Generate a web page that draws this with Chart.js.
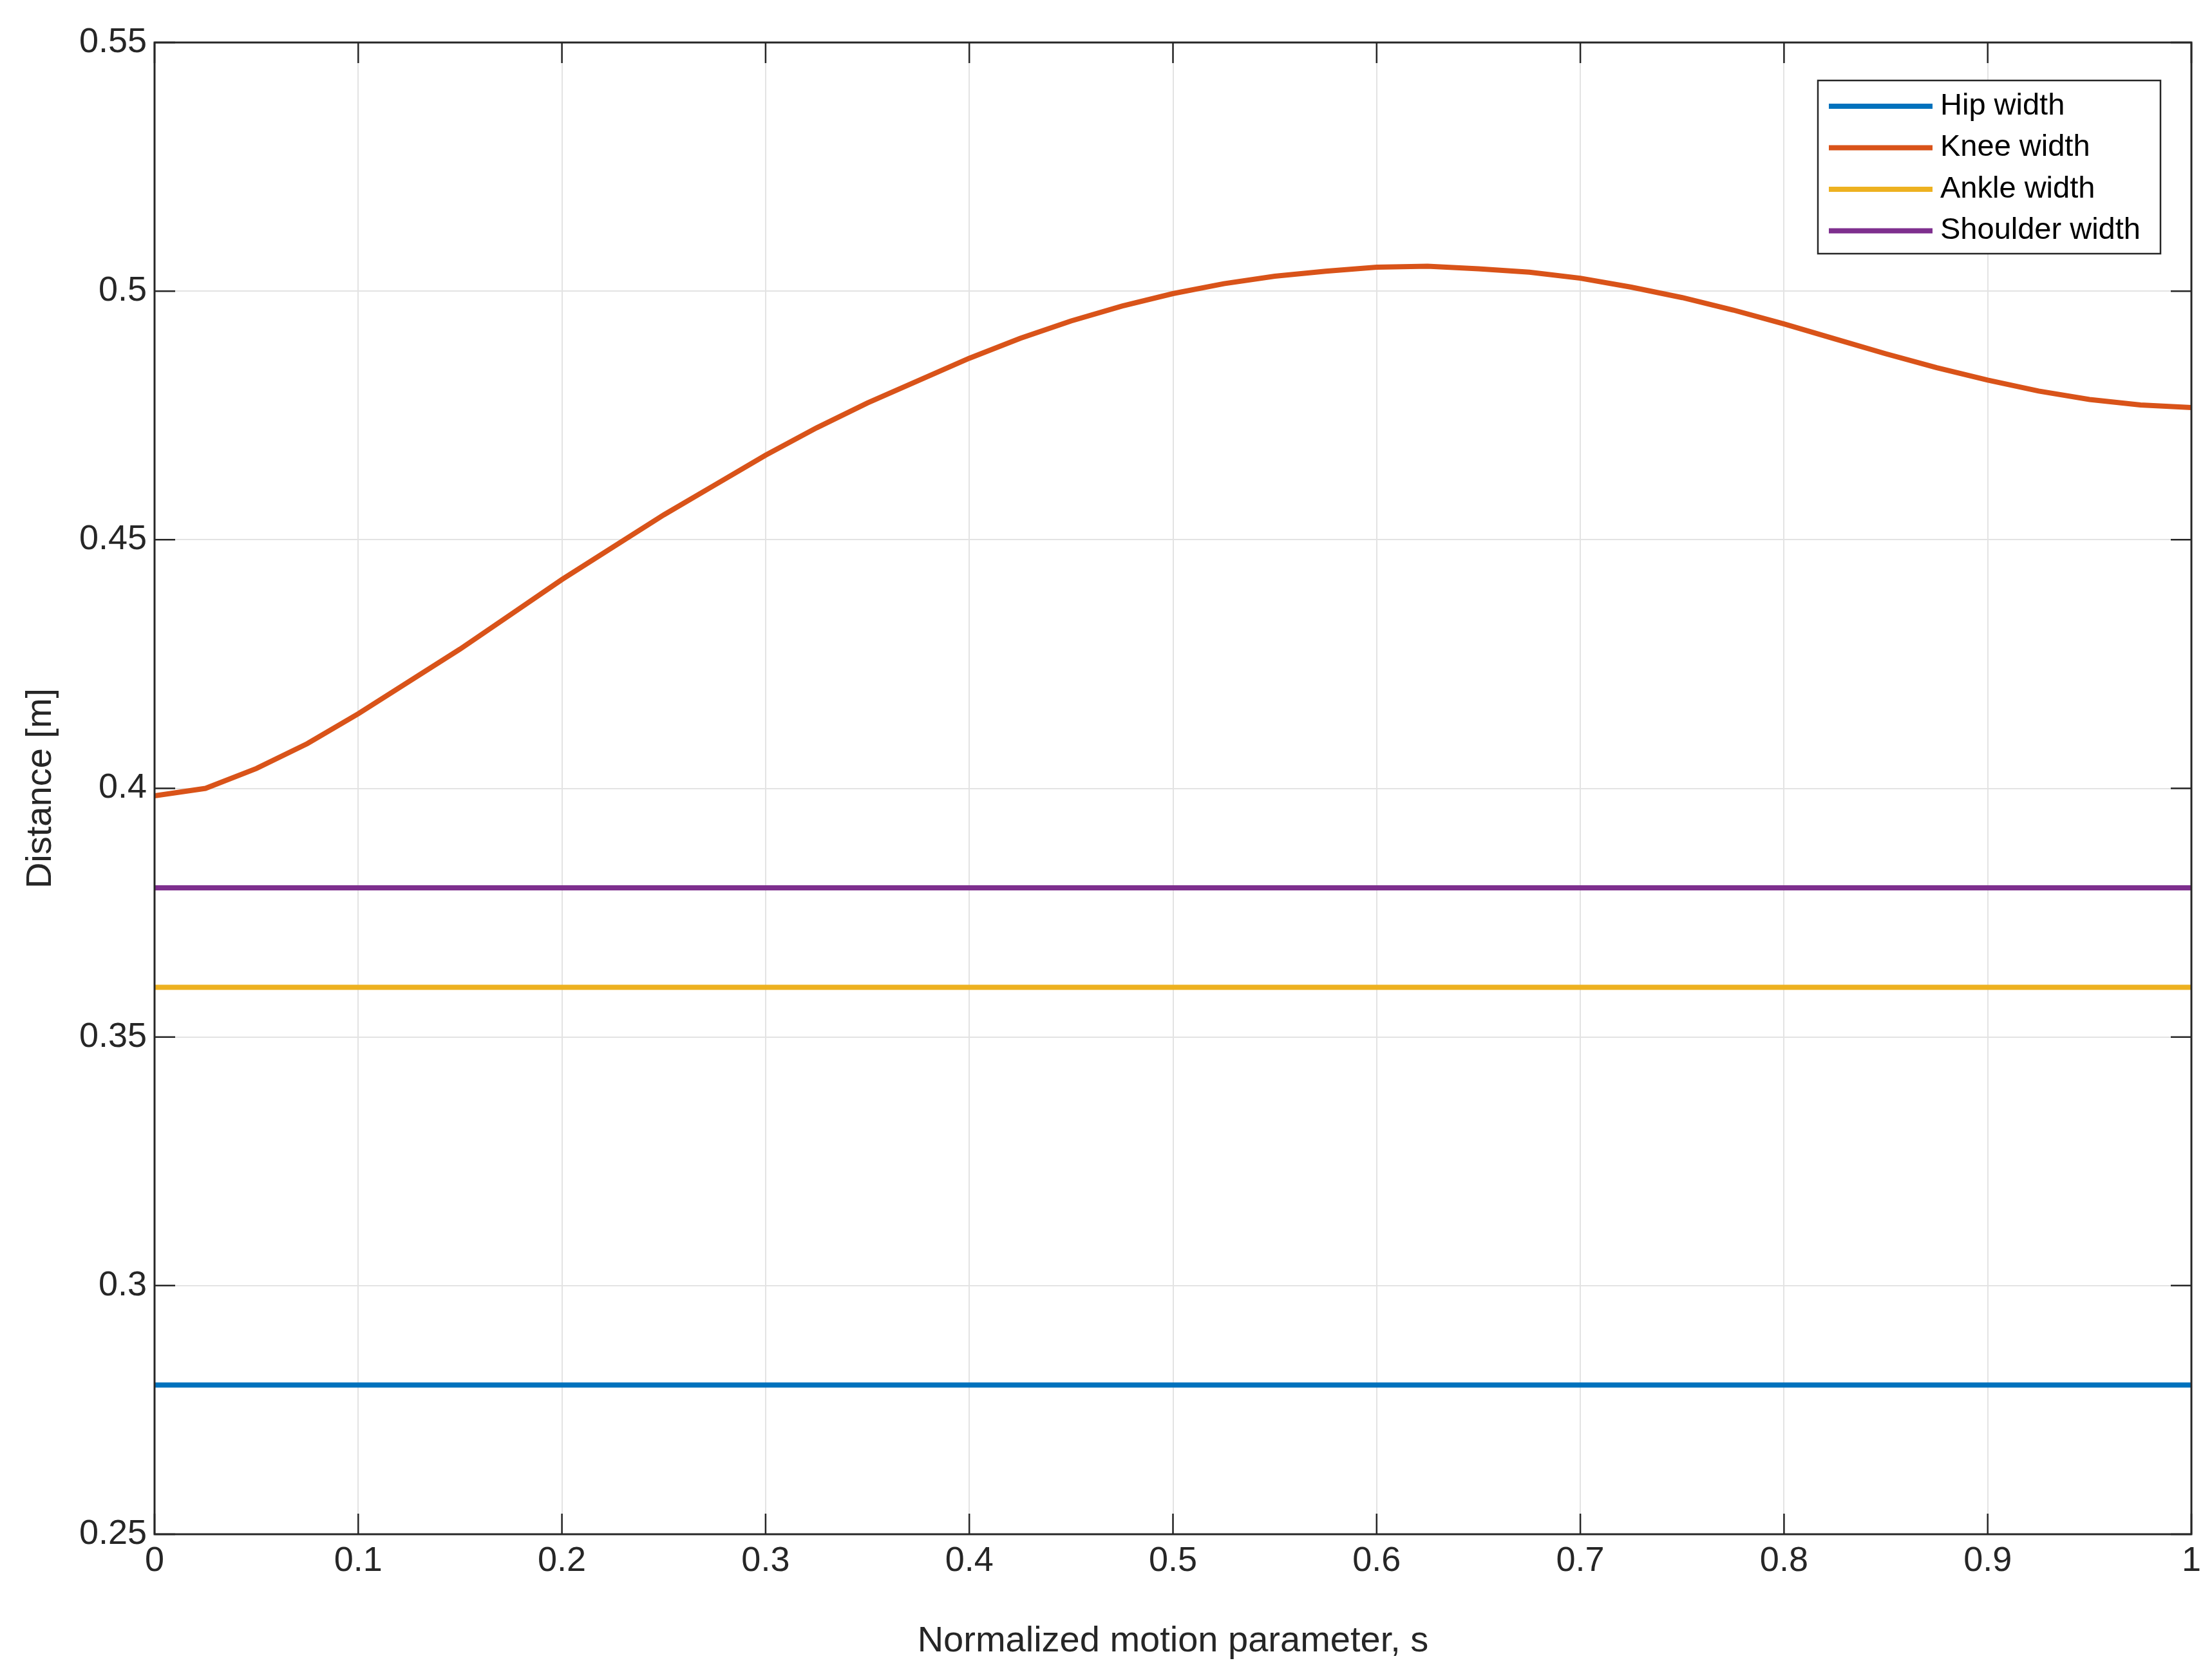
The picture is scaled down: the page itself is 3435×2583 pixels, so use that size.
<!DOCTYPE html>
<html>
<head>
<meta charset="utf-8">
<script src="https://cdn.jsdelivr.net/npm/chart.js@4/dist/chart.umd.min.js"></script>
<style>
  html, body { margin: 0; padding: 0; background: #fff; }
  #wrap { width: 3435px; height: 2583px; }
</style>
</head>
<body>
<div id="wrap"><canvas id="myChart" width="3435" height="2583"></canvas></div>
<script>
const S_VALUES = [0, 0.025, 0.05, 0.075, 0.1, 0.125, 0.15, 0.175, 0.2, 0.225, 0.25, 0.275, 0.3, 0.325,
    0.35, 0.375, 0.4, 0.425, 0.45, 0.475, 0.5, 0.525, 0.55, 0.575, 0.6, 0.625, 0.65, 0.675, 0.7,
    0.725, 0.75, 0.775, 0.8, 0.825, 0.85, 0.875, 0.9, 0.925, 0.95, 0.975, 1];
const KNEE_WIDTH = [0.3985, 0.400, 0.404, 0.409, 0.415, 0.4215, 0.428, 0.435, 0.442, 0.4485, 0.455,
    0.461, 0.467, 0.4725, 0.4775, 0.482, 0.4865, 0.4905, 0.494, 0.497, 0.4995, 0.5015, 0.503,
    0.504, 0.5048, 0.505, 0.5045, 0.5038, 0.5026, 0.5008, 0.4987, 0.4962, 0.4934, 0.4904, 0.4874,
    0.4846, 0.4821, 0.4799, 0.4782, 0.4771, 0.4766];
const HIP_WIDTH = 0.28;
const ANKLE_WIDTH = 0.36;
const SHOULDER_WIDTH = 0.38;
const SERIES_LABELS = ["Hip width", "Knee width", "Ankle width", "Shoulder width"];
const SERIES_COLORS = ["#0072BD", "#D95319", "#EDB120", "#7E2F8E"];

const FONT = "Liberation Sans, Arial, sans-serif";

function constantSeries(v) {
    return [{ x: 0, y: v }, { x: 1, y: v }];
}

// marco + leyenda dentro del area
const matlabBox = {
    id: "matlabBox",
    afterDraw(chart) {
        const { ctx, chartArea: a } = chart;
        ctx.save();
        ctx.strokeStyle = "#262626";
        ctx.lineWidth = 3;
        ctx.strokeRect(a.left, a.top, a.right - a.left, a.bottom - a.top);
        // ticks hacia dentro
        ctx.lineWidth = 2.5;
        const xs = chart.scales.x, ys = chart.scales.y;
        xs.ticks.forEach(t => {
            const px = xs.getPixelForValue(t.value);
            ctx.beginPath();
            ctx.moveTo(px, a.bottom); ctx.lineTo(px, a.bottom - 32);
            ctx.moveTo(px, a.top); ctx.lineTo(px, a.top + 32);
            ctx.stroke();
        });
        ys.ticks.forEach(t => {
            const py = ys.getPixelForValue(t.value);
            ctx.beginPath();
            ctx.moveTo(a.left, py); ctx.lineTo(a.left + 32, py);
            ctx.moveTo(a.right, py); ctx.lineTo(a.right - 32, py);
            ctx.stroke();
        });
        // leyenda
        const lx = 2823, ly = 125, lw = 532, lh = 269;
        ctx.fillStyle = "#fff";
        ctx.fillRect(lx, ly, lw, lh);
        ctx.strokeRect(lx, ly, lw, lh);
        ctx.font = "47px " + FONT;
        ctx.textBaseline = "middle";
        chart.data.datasets.forEach((ds, i) => {
            const y = ly + 40 + i * 64.5;
            ctx.strokeStyle = ds.borderColor;
            ctx.lineWidth = 8;
            ctx.beginPath();
            ctx.moveTo(lx + 17, y); ctx.lineTo(lx + 178, y);
            ctx.stroke();
            ctx.fillStyle = "#000";
            ctx.fillText(ds.label, lx + 190, y);
        });
        ctx.restore();
    },
};

document.addEventListener("DOMContentLoaded", function () {
    const ctx = document.getElementById("myChart").getContext("2d");
    const data = [
        constantSeries(HIP_WIDTH),
        S_VALUES.map((s, i) => ({ x: s, y: KNEE_WIDTH[i] })),
        constantSeries(ANKLE_WIDTH),
        constantSeries(SHOULDER_WIDTH),
    ];
    new Chart(ctx, {
        type: "line",
        data: {
            datasets: SERIES_LABELS.map((label, i) => ({
                label: label,
                data: data[i],
                borderColor: SERIES_COLORS[i],
                borderWidth: 8,
                pointRadius: 0,
                tension: 0,
                fill: false,
            })),
        },
        options: {
            responsive: false,
            animation: false,
            devicePixelRatio: 1,
            layout: { padding: { top: 66, right: 32, left: 30, bottom: 0 } },
            plugins: { legend: { display: false }, tooltip: { enabled: false } },
            scales: {
                x: {
                    type: "linear",
                    min: 0,
                    max: 1,
                    ticks: {
                        stepSize: 0.1,
                        color: "#262626",
                        font: { size: 54, family: FONT },
                        padding: 10,
                        maxRotation: 0,
                        callback: v => Number(v.toFixed(1)).toString(),
                    },
                    grid: { color: "#e3e3e3", lineWidth: 2, drawTicks: false },
                    border: { display: false },
                    title: {
                        display: true,
                        text: "Normalized motion parameter, s",
                        color: "#262626",
                        font: { size: 56, family: FONT },
                        padding: { top: 2, bottom: 0 },
                    },
                    afterFit: s => { s.height = 200; },
                },
                y: {
                    min: 0.25,
                    max: 0.55,
                    ticks: {
                        stepSize: 0.05,
                        color: "#262626",
                        font: { size: 54, family: FONT },
                        padding: 12,
                        callback: v => Number(v.toFixed(2)).toString(),
                    },
                    grid: { color: "#e3e3e3", lineWidth: 2, drawTicks: false },
                    border: { display: false },
                    title: {
                        display: true,
                        text: "Distance [m]",
                        color: "#262626",
                        font: { size: 56, family: FONT },
                        padding: { top: 0, bottom: 4 },
                    },
                    afterFit: s => { s.width = 210; },
                },
            },
        },
        plugins: [matlabBox],
    });
});
</script>
</body>
</html>
